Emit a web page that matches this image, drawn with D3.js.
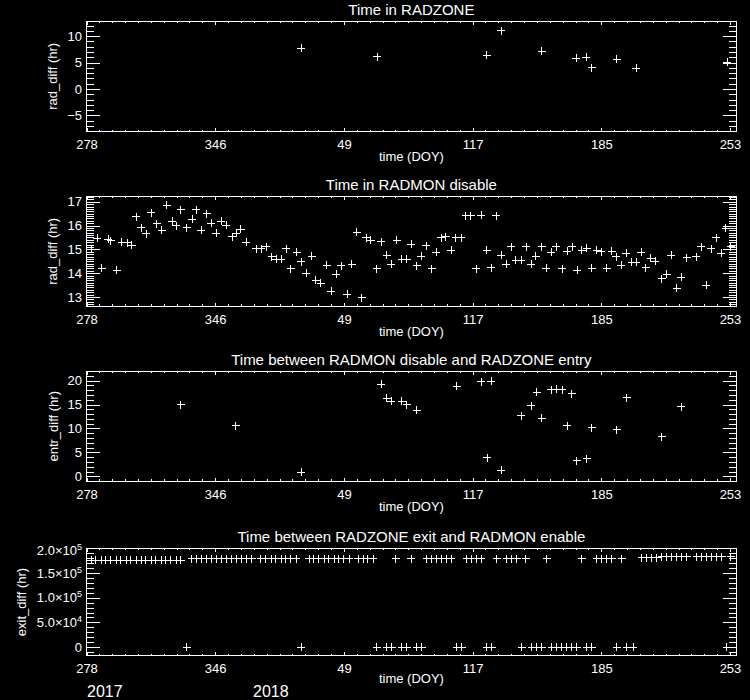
<!DOCTYPE html>
<html><head><meta charset="utf-8">
<script src="https://cdn.jsdelivr.net/npm/d3@7/dist/d3.min.js"></script>
<style>
html,body{margin:0;padding:0;background:#000;}
svg{display:block;background:#000;}
text{fill:#fff;font-family:"Liberation Sans",Arial,sans-serif;}
</style></head><body>
<svg id="c" width="750" height="700"></svg>
<script>
// ---- DATA (x = continuous day of year counted from 2017 Jan 1) ----
const xTickDays = [278, 346, 414, 482, 550, 618];
const xTickLabels = ["278", "346", "49", "117", "185", "253"];

// Panel 1: Time in RADZONE
const radzoneDay = [391.5, 431.5, 489.6, 497.2, 518.5, 536.9, 542.1, 544.9, 558.1, 568.6, 616.6];
const radzoneVal = [7.69, 6.12, 6.38, 11.0, 7.13, 5.82, 6.0, 4.05, 5.63, 3.94, 5.07];

// Panel 2: Time in RADMON disable
const disableDay = [280.7,283.7,286.0,289.5,290.8,294.0,296.6,299.6,301.9,304.4,307.0,309.5,312.2,315.0,317.7,320.3,323.3,325.3,327.9,330.9,333.9,336.0,338.5,341.5,344.0,346.6,349.3,351.9,354.9,357.2,359.5,362.5,367.8,370.3,373.1,375.9,378.2,380.9,383.5,386.0,389.1,391.5,394.1,397.1,399.2,401.7,405.0,407.2,410.0,412.5,415.9,418.1,420.7,423.4,425.9,428.2,431.3,433.8,436.6,439.1,441.9,444.6,447.2,449.7,452.5,455.0,457.5,460.3,462.9,465.4,467.9,470.7,473.2,476.0,478.3,481.1,483.9,486.6,489.4,491.9,494.5,497.2,499.8,502.3,504.8,507.8,510.4,512.9,515.4,518.5,521.0,523.5,526.3,529.3,532.1,534.6,537.2,539.7,542.2,545.0,547.6,550.1,552.9,555.4,557.9,560.5,563.2,566.0,568.6,571.0,573.6,576.1,578.6,581.9,584.5,587.0,589.8,592.3,595.1,600.1,602.9,605.4,608.0,610.8,613.3,615.8,618.3];
const disableVal = [15.0,15.46,14.2,15.42,15.36,14.13,15.3,15.28,15.18,16.37,15.9,15.65,16.54,16.07,15.81,16.86,16.19,15.99,16.66,15.91,16.27,16.66,15.8,16.5,16.09,15.67,16.19,16.02,15.53,15.67,15.85,15.3,15.02,15.02,15.11,14.69,14.58,14.58,15.02,14.18,14.88,14.48,13.99,14.72,13.71,13.58,14.34,13.25,13.95,14.31,13.11,14.37,15.72,12.97,15.49,15.39,14.18,15.32,14.76,14.37,15.39,14.58,14.58,15.21,14.31,14.72,15.15,14.18,14.88,15.49,15.53,14.97,15.49,15.49,16.41,16.41,14.18,16.44,14.97,14.23,16.41,14.76,14.37,15.11,14.55,14.55,15.11,14.37,14.72,15.11,14.2,14.88,15.11,14.18,14.93,15.11,14.13,14.97,15.04,14.2,14.97,14.9,14.2,14.93,14.69,14.34,14.84,14.46,14.46,14.88,14.23,14.62,14.51,13.76,13.95,14.76,13.37,13.83,14.65,14.69,15.11,13.5,15.02,15.49,14.84,15.88,15.11];

// Panel 3: Time between RADMON disable and RADZONE entry
const entryDay = [327.9,356.9,391.5,433.8,436.6,439.1,444.6,447.2,452.5,473.7,486.6,489.7,491.9,497.2,507.8,512.9,515.9,518.5,523.5,526.3,529.3,532.1,534.4,537.0,542.2,545.0,558.1,563.5,581.9,592.3];
const entryVal = [14.92,10.59,0.84,19.25,16.3,15.75,15.75,14.92,13.8,18.83,19.8,3.9,19.94,1.25,12.68,14.78,17.57,12.13,18.12,18.26,18.12,10.59,17.28,3.2,3.62,10.17,9.75,16.44,8.28,14.56];

// Panel 4: Time between RADZONE exit and RADMON enable
const exitHighDay = [280.4,283.0,285.7,288.3,290.9,293.6,296.2,298.9,301.5,304.2,306.8,309.4,312.1,314.7,317.4,320.0,322.6,325.3,327.9,
  333.5,336.1,338.8,341.4,344.1,346.7,349.3,352.0,354.6,357.3,359.9,362.5,365.2,
  370.2,372.8,375.5,378.1,380.8,383.4,386.0,388.7,
  395.6,398.2,400.8,403.5,406.1,408.8,411.4,414.0,416.7,
  421.5,424.1,426.7,429.4,
  441.5,449.5,457.8,460.4,463.0,465.7,468.3,470.8,478.9,481.5,484.2,486.6,494.7,500.0,502.7,505.3,510.2,521.2,539.6,547.6,550.2,552.9,555.5,560.8,
  571.4,574.0,576.6,579.3,581.9,584.6,587.2,589.8,592.5,595.1,600.4,603.1,605.7,608.3,611.0,613.6,618.4];
const exitHighVal = [175600,175600,175600,175600,175600,175600,175600,175600,175600,175600,175600,175600,175600,175600,175600,175600,175600,175600,175600,
  178800,178800,178800,178800,178800,178800,178800,178800,178800,178800,178800,178800,178800,
  178800,178800,178800,178800,178800,178800,178800,178800,
  178800,178800,178800,178800,178800,178800,178800,178800,178800,
  178800,178800,178800,178800,
  179000,179000,179000,179000,179000,179000,179000,179000,179000,179000,179000,179000,179000,179000,179000,179000,179000,179000,179000,179000,179000,179000,179000,179000,
  180500,180500,180500,180500,182500,182500,182500,182500,182500,182500,182500,182500,182500,182500,182500,182500,182500];
const exitLowDay = [330.9,391.5,431.3,436.6,439.3,444.5,447.2,452.5,455.1,473.6,476.2,489.5,492.1,507.9,513.2,515.9,518.5,523.8,526.4,529.1,531.7,534.4,537.0,542.3,544.9,558.1,563.4,566.8,616.3];
const exitLowVal = exitLowDay.map(() => 0);

// ---- PANEL LAYOUT ----
const panels = [
  {title:"Time in RADZONE", ylab:"rad_diff (hr)", ylabX:57, top:21.3, bot:131.3, ydom:[-8.0,12.8],
   major:[-5,0,5,10], minorStep:1, days:radzoneDay, vals:radzoneVal},
  {title:"Time in RADMON disable", ylab:"rad_diff (hr)", ylabX:57, top:196.3, bot:306.3, ydom:[12.61,17.23],
   major:[13,14,15,16,17], minorStep:0.1, days:disableDay, vals:disableVal},
  {title:"Time between RADMON disable and RADZONE entry", ylab:"entr_diff (hr)", ylabX:58, top:371.3, bot:481.3, ydom:[-1.05,21.97],
   major:[0,5,10,15,20], minorStep:1, days:entryDay, vals:entryVal},
  {title:"Time between RADZONE exit and RADMON enable", ylab:"exit_diff (hr)", ylabX:26, top:548.3, bot:655.7, ydom:[-17400,200000],
   major:[0,50000,100000,150000,200000], minorStep:10000, sci:true,
   days:exitHighDay.concat(exitLowDay), vals:exitHighVal.concat(exitLowVal)}
];

const svg = d3.select("#c");
const L = 86.5, R = 736.3;
const x = d3.scaleLinear().domain([278, 278 + (R - L) / 1.8926]).range([L, R]);
const xMinor = d3.range(278, 622, 6.8).filter(d => xTickDays.every(t => Math.abs(t - d) > 0.5));

panels.forEach(p => {
  const g = svg.append("g");
  const y = d3.scaleLinear().domain(p.ydom).range([p.bot, p.top]);
  const yMinor = d3.range(Math.ceil(p.ydom[0] / p.minorStep) * p.minorStep, p.ydom[1], p.minorStep)
    .map(v => +v.toFixed(6)).filter(v => p.major.every(m => Math.abs(m - v) > p.minorStep / 2));

  const ax = (sel) => sel.call(s => s.selectAll("path.domain").remove())
    .call(s => s.selectAll("line").attr("stroke", "#fff").attr("shape-rendering", "crispEdges"));

  // bottom axis
  g.append("g").attr("transform", `translate(0,${p.bot})`)
    .call(d3.axisBottom(x).tickValues(xTickDays).tickSize(-3.5).tickSizeOuter(0).tickPadding(8.5)
      .tickFormat((d, i) => xTickLabels[i]))
    .call(ax).call(s => s.selectAll("text").attr("font-size", "13px").attr("fill", "#fff"));
  g.append("g").attr("transform", `translate(0,${p.bot})`)
    .call(d3.axisBottom(x).tickValues(xMinor).tickSize(-1.8).tickFormat(""))
    .call(ax);
  // top axis
  g.append("g").attr("transform", `translate(0,${p.top})`)
    .call(d3.axisTop(x).tickValues(xTickDays).tickSize(-3.5).tickFormat("")).call(ax);
  g.append("g").attr("transform", `translate(0,${p.top})`)
    .call(d3.axisTop(x).tickValues(xMinor).tickSize(-1.8).tickFormat("")).call(ax);
  // left axis
  g.append("g").attr("transform", `translate(${L},0)`)
    .call(d3.axisLeft(y).tickValues(p.major.filter(v => v <= p.ydom[1])).tickSize(-13.5).tickPadding(4.5)
      .tickFormat(d => p.sci ? "" : (d < 0 ? "\u2212" + Math.abs(d) : String(d))))
    .call(ax).call(s => s.selectAll("text").attr("font-size", "13px").attr("fill", "#fff"));
  if (p.sci) {
    p.major.forEach(v => {
      const yy = v >= p.ydom[1] ? p.top + 7 : y(v) + 4.5;
      const t = g.append("text").attr("x", L - 4.5).attr("y", yy)
        .attr("text-anchor", "end").attr("font-size", "13px");
      if (v === 0) { t.text("0"); return; }
      const e = Math.floor(Math.log10(v));
      const m = (v / Math.pow(10, e)).toFixed(1);
      t.append("tspan").text(m + "\u00d710");
      t.append("tspan").attr("font-size", "9px").attr("dy", "-5").text(e);
    });
  }
  g.append("g").attr("transform", `translate(${L},0)`)
    .call(d3.axisLeft(y).tickValues(yMinor).tickSize(-7).tickFormat("")).call(ax);
  // right axis
  g.append("g").attr("transform", `translate(${R},0)`)
    .call(d3.axisRight(y).tickValues(p.major.filter(v => v <= p.ydom[1])).tickSize(-13.5).tickFormat("")).call(ax);
  g.append("g").attr("transform", `translate(${R},0)`)
    .call(d3.axisRight(y).tickValues(yMinor).tickSize(-7).tickFormat("")).call(ax);

  // box
  g.append("rect").attr("x", L).attr("y", p.top).attr("width", R - L).attr("height", p.bot - p.top)
    .attr("fill", "none").attr("stroke", "#fff").attr("shape-rendering", "crispEdges");

  // titles
  g.append("text").attr("x", (L + R) / 2).attr("y", p.top - 6).attr("text-anchor", "middle")
    .attr("font-size", "15px").text(p.title);
  g.append("text").attr("x", (L + R) / 2).attr("y", p.bot + (p.sci ? 27 : 30)).attr("text-anchor", "middle")
    .attr("font-size", "13px").text("time (DOY)");
  g.append("text").attr("transform", `translate(${p.ylabX},${(p.top + p.bot) / 2}) rotate(-90)`)
    .attr("text-anchor", "middle").attr("font-size", "13px").text(p.ylab);

  // points (plus symbols)
  g.append("g").selectAll("path").data(p.days.map((d, i) => [d, p.vals[i]])).join("path")
    .attr("transform", d => `translate(${x(d[0])},${y(d[1])})`)
    .attr("d", "M-4,0H4M0,-4V4").attr("stroke", "#fff").attr("stroke-width", 1)
    .attr("fill", "none").attr("shape-rendering", "crispEdges");
});

// year labels
svg.append("text").attr("x", 87).attr("y", 697).attr("font-size", "16px").text("2017");
svg.append("text").attr("x", 253).attr("y", 697).attr("font-size", "16px").text("2018");
</script>
</body></html>
